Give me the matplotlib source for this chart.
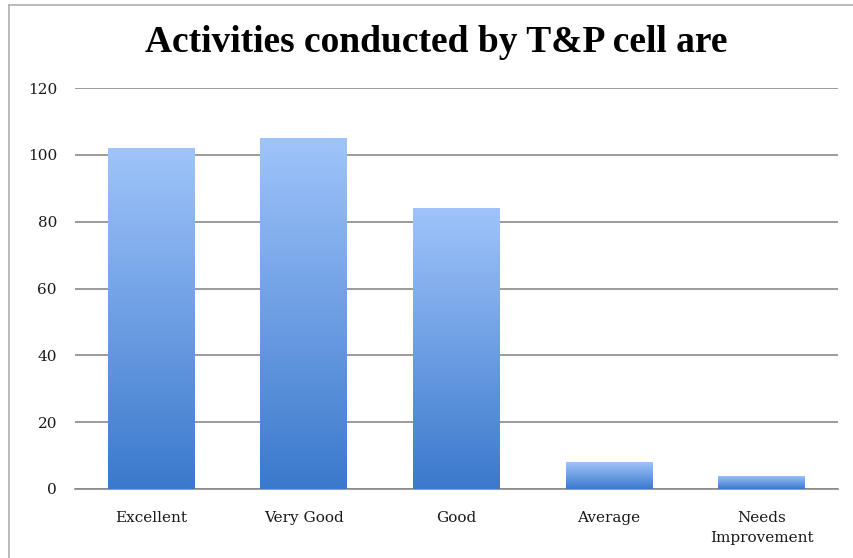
import matplotlib
matplotlib.use("Agg")
import matplotlib.pyplot as plt
import numpy as np
from matplotlib.colors import LinearSegmentedColormap
from matplotlib.lines import Line2D

categories = ["Excellent", "Very Good", "Good", "Average", "Needs\nImprovement"]
values = [102, 105, 84, 8, 4]
y_ticks = [0, 20, 40, 60, 80, 100, 120]

TOP_BLUE = "#9fc4fa"
BOTTOM_BLUE = "#3b79cc"
GRID = "#8a8a8a"
FRAME = "#b5b5b5"

plt.rcParams["font.family"] = ["DejaVu Serif"]

fig = plt.figure(figsize=(8.54, 5.58), dpi=100)
ax = fig.add_axes([75 / 854, 1 - 489 / 558, 763 / 854, 401 / 558])

# outer chart frame: only the left and top edges show in the crop
fx, fy = 8.5 / 854, 1 - 4.5 / 558
fig.lines.append(Line2D([fx, fx], [0, fy], transform=fig.transFigure,
                        color=FRAME, linewidth=1.3))
fig.lines.append(Line2D([fx, 1], [fy, fy], transform=fig.transFigure,
                        color=FRAME, linewidth=1.3))

x = np.arange(len(categories))

cmap = LinearSegmentedColormap.from_list("barfill", [BOTTOM_BLUE, TOP_BLUE])
grad = np.linspace(0, 1, 256).reshape(-1, 1)

bars = ax.bar(x, values, width=0.57, color="none", edgecolor="none", zorder=3)
for bar in bars:
    x0, w, h = bar.get_x(), bar.get_width(), bar.get_height()
    im = ax.imshow(grad, cmap=cmap, origin="lower", aspect="auto",
                   extent=[x0, x0 + w, 0, h], zorder=3)
    im.set_clip_path(bar)
ax.set_xlim(-0.5, len(categories) - 0.5)
ax.set_ylim(0, 120)

ax.set_yticks(y_ticks)
ax.yaxis.grid(True, color=GRID, linewidth=1.2, zorder=0)
ax.set_axisbelow(True)
ax.set_xticks(x)
ax.set_xticklabels(categories, linespacing=1.5)
ax.tick_params(axis="both", length=0, labelsize=11, colors="#1a1a1a")
ax.tick_params(axis="x", pad=16)
ax.tick_params(axis="y", pad=13)
for side in ["top", "right", "left"]:
    ax.spines[side].set_visible(False)
ax.spines["bottom"].set_color(GRID)
ax.spines["bottom"].set_linewidth(1.2)

fig.text(0.511, 1 - 43 / 558, "Activities conducted by T&P cell are",
         ha="center", va="center", fontsize=27, fontweight="bold",
         family="Liberation Serif")

fig.savefig("out.png", dpi=100)
